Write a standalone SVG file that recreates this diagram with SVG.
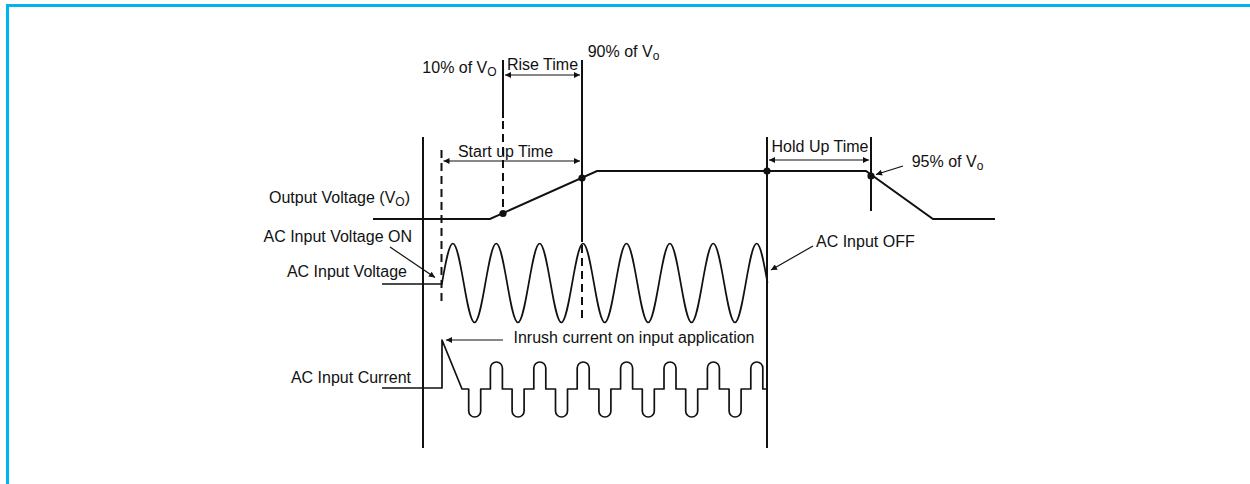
<svg xmlns="http://www.w3.org/2000/svg" width="1250" height="484" viewBox="0 0 1250 484">
<defs>
<style>
.t{font-family:"Liberation Sans",Arial,sans-serif;font-size:16px;fill:#111}
.s{font-size:12px}
.ln{stroke:#111;stroke-width:2;fill:none}
.dash{stroke:#111;stroke-width:2;fill:none;stroke-dasharray:8 5}
.wave{stroke:#111;stroke-width:1.7;fill:none;stroke-linejoin:round}
.arr{stroke:#111;stroke-width:1.2;fill:none}
.dot{fill:#111}
</style>
<marker id="ah" viewBox="0 0 10 10" refX="10" refY="5" markerWidth="7" markerHeight="6" markerUnits="userSpaceOnUse" orient="auto-start-reverse">
<path d="M0,0 L10,5 L0,10 z" fill="#111"/>
</marker>
</defs>
<rect width="1250" height="484" fill="#fff"/>
<rect id="frame" x="7.5" y="5.5" width="1300" height="600" fill="none" stroke="#00b5ef" stroke-width="3"/>

<g id="timing-lines">
<line class="ln" x1="423" y1="137" x2="423" y2="448"/>
<line class="dash" x1="441.5" y1="150" x2="441.5" y2="302"/>
<line class="ln" x1="503" y1="60" x2="503" y2="118"/>
<line class="dash" x1="503" y1="121" x2="503" y2="214"/>
<line class="ln" x1="582" y1="60" x2="582" y2="242"/>
<line class="dash" x1="582" y1="245" x2="582" y2="322"/>
<line class="ln" x1="767" y1="137" x2="767" y2="448"/>
<line class="ln" x1="871" y1="137" x2="871" y2="211"/>
</g>

<g id="output-voltage">
<path class="ln" d="M373,219 L490,219 L597,171 L866,171 L933,219 L995,219"/>
<circle class="dot" cx="503" cy="213.5" r="3.6"/>
<circle class="dot" cx="582" cy="178" r="3.6"/>
<circle class="dot" cx="767" cy="171" r="3.6"/>
<circle class="dot" cx="871" cy="176" r="3.6"/>
</g>

<g id="ac-input-voltage">
<path class="wave" d="M382,284 L442,284 L442,283
c3.54,-20.24 6.92,-39.5 10.85,-39.5 c3.93,0 7.31,19.26 10.85,39.5 c3.54,20.24 6.92,39.5 10.85,39.5 c3.93,0 7.31,-19.26 10.85,-39.5
c3.54,-20.24 6.92,-39.5 10.85,-39.5 c3.93,0 7.31,19.26 10.85,39.5 c3.54,20.24 6.92,39.5 10.85,39.5 c3.93,0 7.31,-19.26 10.85,-39.5
c3.54,-20.24 6.92,-39.5 10.85,-39.5 c3.93,0 7.31,19.26 10.85,39.5 c3.54,20.24 6.92,39.5 10.85,39.5 c3.93,0 7.31,-19.26 10.85,-39.5
c3.54,-20.24 6.92,-39.5 10.85,-39.5 c3.93,0 7.31,19.26 10.85,39.5 c3.54,20.24 6.92,39.5 10.85,39.5 c3.93,0 7.31,-19.26 10.85,-39.5
c3.54,-20.24 6.92,-39.5 10.85,-39.5 c3.93,0 7.31,19.26 10.85,39.5 c3.54,20.24 6.92,39.5 10.85,39.5 c3.93,0 7.31,-19.26 10.85,-39.5
c3.54,-20.24 6.92,-39.5 10.85,-39.5 c3.93,0 7.31,19.26 10.85,39.5 c3.54,20.24 6.92,39.5 10.85,39.5 c3.93,0 7.31,-19.26 10.85,-39.5
c3.54,-20.24 6.92,-39.5 10.85,-39.5 c3.93,0 7.31,19.26 10.85,39.5 c3.54,20.24 6.92,39.5 10.85,39.5 c3.93,0 7.31,-19.26 10.85,-39.5
c3.54,-20.24 6.92,-39.5 10.85,-39.5 c3.93,0 7.31,19.26 10.85,39.5"/>
</g>

<g id="ac-input-current">
<path class="wave" d="M382,388 L442,388 L442,340 L462,389
L468.7,389 L468.7,411 A6,6 0 0 0 480.7,411 L480.7,389 L490.4,389 L490.4,368 A6,6 0 0 1 502.4,368 L502.4,389
L512.1,389 L512.1,411 A6,6 0 0 0 524.1,411 L524.1,389 L533.8,389 L533.8,368 A6,6 0 0 1 545.8,368 L545.8,389
L555.5,389 L555.5,411 A6,6 0 0 0 567.5,411 L567.5,389 L577.2,389 L577.2,368 A6,6 0 0 1 589.2,368 L589.2,389
L598.9,389 L598.9,411 A6,6 0 0 0 610.9,411 L610.9,389 L620.6,389 L620.6,368 A6,6 0 0 1 632.6,368 L632.6,389
L642.3,389 L642.3,411 A6,6 0 0 0 654.3,411 L654.3,389 L664,389 L664,368 A6,6 0 0 1 676,368 L676,389
L685.7,389 L685.7,411 A6,6 0 0 0 697.7,411 L697.7,389 L707.4,389 L707.4,368 A6,6 0 0 1 719.4,368 L719.4,389
L729.1,389 L729.1,411 A6,6 0 0 0 741.1,411 L741.1,389 L750.8,389 L750.8,368 A6,6 0 0 1 762.8,368 L762.8,389 L767,389"/>
</g>

<g id="connectors">
<line class="arr" x1="505" y1="75" x2="580" y2="75" marker-start="url(#ah)" marker-end="url(#ah)"/>
<line class="arr" x1="443.5" y1="161" x2="580" y2="161" marker-start="url(#ah)" marker-end="url(#ah)"/>
<line class="arr" x1="769" y1="160" x2="869" y2="160" marker-start="url(#ah)" marker-end="url(#ah)"/>
<line class="arr" x1="903" y1="166" x2="876" y2="174.5" marker-end="url(#ah)"/>
<line class="arr" x1="390" y1="247" x2="435" y2="277.5" marker-end="url(#ah)"/>
<line class="arr" x1="813" y1="246" x2="771" y2="270" marker-end="url(#ah)"/>
<line class="arr" x1="503" y1="340" x2="446" y2="340" marker-end="url(#ah)"/>
</g>

<g id="labels">
<text class="t" x="459.5" y="73" text-anchor="middle">10% of V<tspan class="s" dy="3">O</tspan></text>
<text class="t" x="542.5" y="70" text-anchor="middle">Rise Time</text>
<text class="t" x="623.5" y="57" text-anchor="middle">90% of V<tspan class="s" dy="3">o</tspan></text>
<text class="t" x="505.5" y="157" text-anchor="middle">Start up Time</text>
<text class="t" x="820" y="152" text-anchor="middle">Hold Up Time</text>
<text class="t" x="947.5" y="167" text-anchor="middle">95% of V<tspan class="s" dy="3">o</tspan></text>
<text class="t" x="410" y="203" text-anchor="end">Output Voltage (V<tspan class="s" dy="3">O</tspan><tspan dy="-3">)</tspan></text>
<text class="t" x="412" y="241.5" text-anchor="end">AC Input Voltage ON</text>
<text class="t" x="407" y="277" text-anchor="end">AC Input Voltage</text>
<text class="t" x="816" y="247">AC Input OFF</text>
<text class="t" x="634" y="343" text-anchor="middle">Inrush current on input application</text>
<text class="t" x="411" y="383" text-anchor="end">AC Input Current</text>
</g>
</svg>
